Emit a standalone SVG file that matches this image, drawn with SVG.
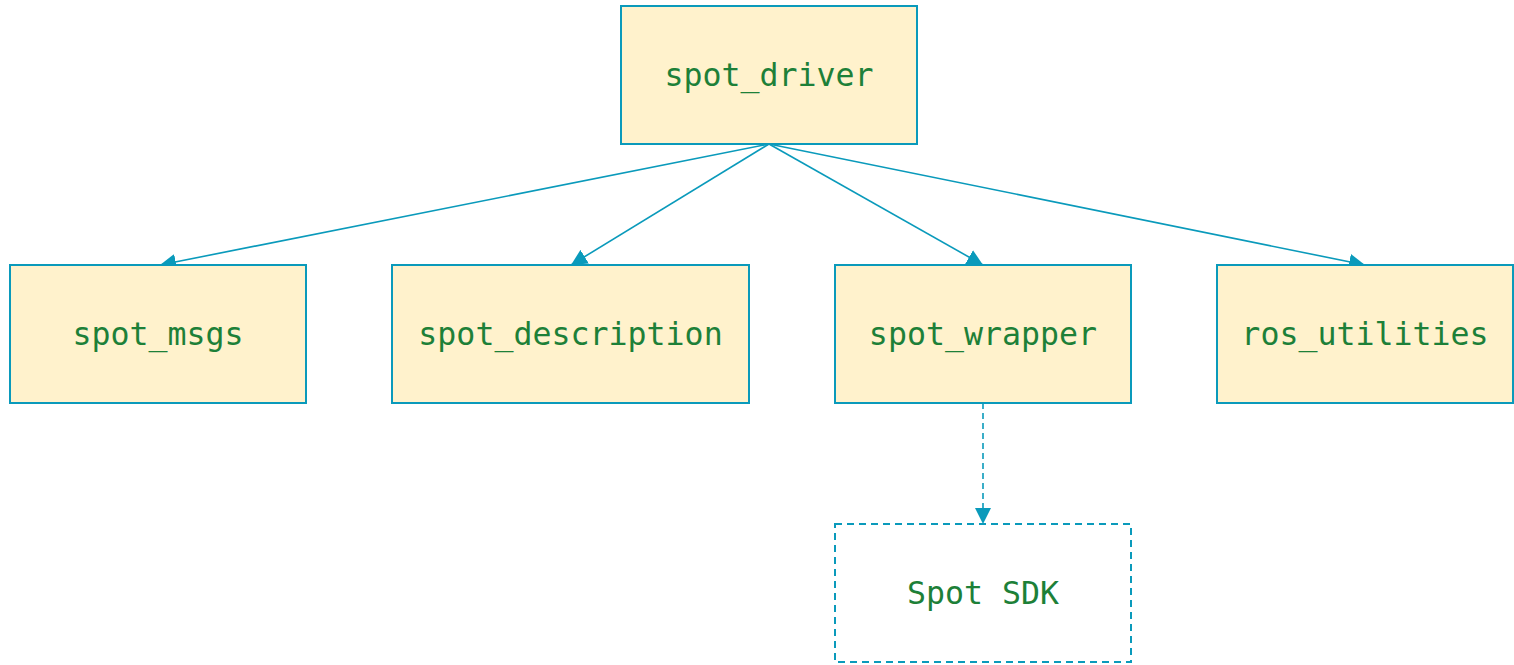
<svg xmlns="http://www.w3.org/2000/svg" width="1514" height="665" viewBox="0 0 1514 665">
<style>
.box{fill:#fff2cc;stroke:#0a9abb;stroke-width:2}
.ext{fill:#ffffff;stroke:#0a9abb;stroke-width:2;stroke-dasharray:7,5}
.lbl{font-family:"DejaVu Sans Mono","Liberation Mono",monospace;font-size:31.6px;fill:#1d8038;text-anchor:middle}
.edge{fill:none;stroke:#0a9abb;stroke-width:1.6}
.dash{stroke-dasharray:6,4}
</style>
<defs>
<marker id="ah2" viewBox="0 0 10 10" refX="10" refY="5" markerWidth="16" markerHeight="16" markerUnits="userSpaceOnUse" orient="auto">
<path d="M0,0 L10,5 L0,10 z" fill="#0a9abb"/>
</marker>
</defs>
<g id="connectors">
<line class="edge" x1="769" y1="144" x2="160" y2="265" marker-end="url(#ah2)"/>
<line class="edge" x1="769" y1="144" x2="571" y2="265" marker-end="url(#ah2)"/>
<line class="edge" x1="769" y1="144" x2="983" y2="265" marker-end="url(#ah2)"/>
<line class="edge" x1="769" y1="144" x2="1365" y2="265" marker-end="url(#ah2)"/>
<line class="edge dash" x1="983" y1="403" x2="983" y2="524" marker-end="url(#ah2)"/>
</g>
<g id="spot_driver">
<rect class="box" x="621" y="6" width="296" height="138"/>
<text class="lbl" x="769" y="86">spot_driver</text>
</g>
<g id="spot_msgs">
<rect class="box" x="10" y="265" width="296" height="138"/>
<text class="lbl" x="158" y="345">spot_msgs</text>
</g>
<g id="spot_description">
<rect class="box" x="392" y="265" width="357" height="138"/>
<text class="lbl" x="570.5" y="345">spot_description</text>
</g>
<g id="spot_wrapper">
<rect class="box" x="835" y="265" width="296" height="138"/>
<text class="lbl" x="983" y="345">spot_wrapper</text>
</g>
<g id="ros_utilities">
<rect class="box" x="1217" y="265" width="296" height="138"/>
<text class="lbl" x="1365" y="345">ros_utilities</text>
</g>
<g id="spot_sdk">
<rect class="ext" x="835" y="524" width="296" height="138"/>
<text class="lbl" x="983" y="604">Spot SDK</text>
</g>
</svg>
